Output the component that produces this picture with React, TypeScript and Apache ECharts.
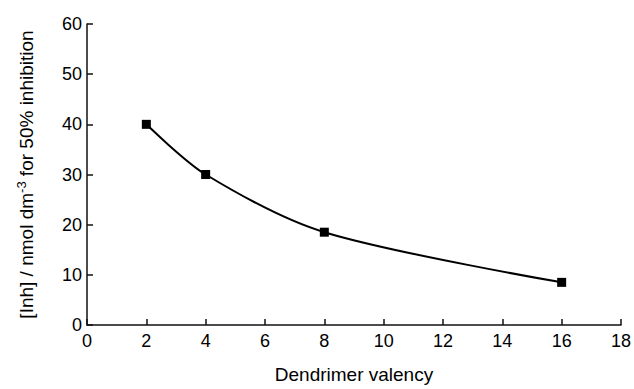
import React, { useEffect, useRef } from "react";
import * as echarts from "echarts";

const valency = [2, 4, 8, 16];
const inhibition = [40, 30, 18.5, 8.5];
const xTicks = { min: 0, max: 18, interval: 2 };
const yTicks = { min: 0, max: 60, interval: 10 };

const FONT = "'Liberation Sans', Arial, Helvetica, sans-serif";

export default function App() {
  const ref = useRef<HTMLDivElement>(null);
  useEffect(() => {
    if (!ref.current) return;
    const chart = echarts.init(ref.current, null, { renderer: "svg" });
    chart.setOption({
      animation: false,
      backgroundColor: "#ffffff",
      grid: { left: 87, right: 11, top: 24, bottom: 59 },
      xAxis: {
        type: "value",
        min: xTicks.min,
        max: xTicks.max,
        interval: xTicks.interval,
        name: "Dendrimer valency",
        nameLocation: "middle",
        nameGap: 40,
        nameTextStyle: { fontFamily: FONT, fontSize: 19, color: "#000" },
        axisLine: { show: true, onZero: false, lineStyle: { color: "#111", width: 1.5 } },
        axisTick: { show: true, inside: true, length: 6, lineStyle: { color: "#111", width: 1.5 } },
        axisLabel: { fontFamily: FONT, fontSize: 18, color: "#000", margin: 7 },
        splitLine: { show: false },
      },
      yAxis: {
        type: "value",
        min: yTicks.min,
        max: yTicks.max,
        interval: yTicks.interval,
        name: "[Inh] / nmol dm{sup|-3} for 50% inhibition",
        nameLocation: "middle",
        nameGap: 50,
        nameRotate: 90,
        nameTextStyle: {
          fontFamily: FONT,
          fontSize: 19,
          color: "#000",
          rich: {
            sup: { fontFamily: FONT, fontSize: 13, color: "#000", verticalAlign: "top", padding: [0, 0, 9, 0] },
          },
        },
        axisLine: { show: true, onZero: false, lineStyle: { color: "#111", width: 1.5 } },
        axisTick: { show: true, inside: true, length: 6, lineStyle: { color: "#111", width: 1.5 } },
        axisLabel: { fontFamily: FONT, fontSize: 18, color: "#000", margin: 5 },
        splitLine: { show: false },
      },
      series: [
        {
          type: "line",
          data: valency.map((v, i) => [v, inhibition[i]]),
          smooth: 0.3,
          symbol: "rect",
          symbolSize: 9,
          lineStyle: { color: "#000", width: 2 },
          itemStyle: { color: "#000" },
        },
      ],
    });
    return () => chart.dispose();
  }, []);
  return (
    <div
      ref={ref}
      style={{ position: "absolute", left: 0, top: 0, width: 634, height: 389 }}
    />
  );
}
